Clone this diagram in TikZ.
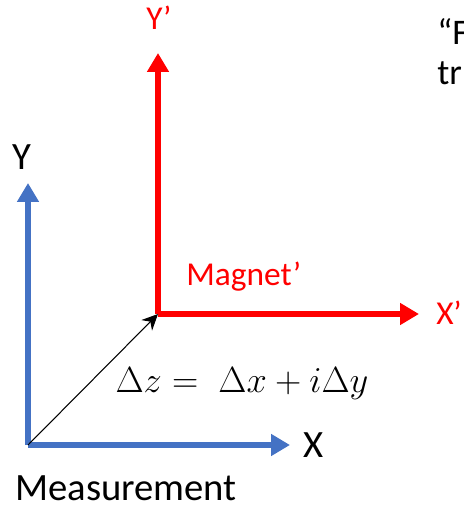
\documentclass[tikz,border=0pt]{standalone}
\usepackage{fontspec}
\setmainfont{Carlito}
\usetikzlibrary{arrows.meta,positioning}
\definecolor{myblue}{HTML}{4472C4}
\definecolor{myred}{HTML}{FF0000}
\tikzset{
  axis/.style={line width=0.12cm, -{Triangle[length=0.38cm, width=0.42cm]}},
  blueaxis/.style={axis, draw=myblue, fill=myblue},
  redaxis/.style={axis, draw=myred, fill=myred},
  arr/.style={-{Stealth[length=0.32cm, width=0.3cm]}, line width=0.6pt},
  biglab/.style={font=\fontsize{22}{26}\selectfont, inner sep=0pt},
  redlab/.style={font=\fontsize{19}{23}\selectfont, text=myred, inner sep=0pt},
  cutlab/.style={font=\fontsize{20.5}{24}\selectfont, inner sep=0pt, anchor=base west},
}
\begin{document}
\begin{tikzpicture}[x=0.02cm, y=-0.02cm]
    \path[use as bounding box, clip] (0,0) rectangle (463,506);
    % frames
    \coordinate (o) at (28,445);
    \coordinate (ox) at (290,445);
    \coordinate (oy) at (28,183);
    \coordinate (m) at (158,314);
    \coordinate (mx) at (419,314);
    \coordinate (my) at (158,53);
    \draw[blueaxis] (o) -- (oy);
    \draw[blueaxis] (o) -- (ox);
    \draw[redaxis] (m) -- (my);
    \draw[redaxis] (m) -- (mx);
    \draw[arr] (o) -- (m);
    % labels
    \node[biglab] (ylab) at (22,157) {Y};
    \node[biglab] (xlab) at (314,445) {X};
    \node[biglab, anchor=base west] (meas) at (15,500) {Measurement};
    \node[redlab] (yplab) at (159,18) {Y’};
    \node[redlab, anchor=west] (xplab) at (436,313) {X’};
    \node[redlab, anchor=base west] (magnet) at (186,285) {Magnet’};
    \node[inner sep=0pt, anchor=base, font=\fontsize{20.5}{24}\selectfont] (dz) at (242,392) {$\Delta z = \;\Delta x + i\Delta y$};
    \node[cutlab] (cut1) at (437,45) {“F};
    \node[cutlab] (cut2) at (437,85) {tr};
\end{tikzpicture}
\end{document}
